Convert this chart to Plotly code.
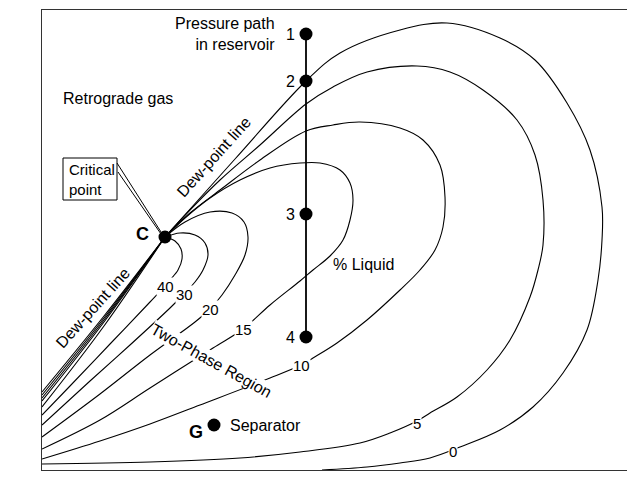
import plotly.graph_objects as go

FONT = "Liberation Sans, Arial, Helvetica, sans-serif"

# ---------------- data (arbitrary temperature / pressure units) ----------------
crit_T = [123]
crit_P = [233]

# quality lines (% liquid); each starts at the critical point
q0_T = [123, 193, 264, 298, 358, 405, 458, 493, 525, 548, 560, 560, 556, 545, 521, 491, 458, 418, 388, 358, 325, 280]
q0_P = [233, 311, 389, 417, 440, 447, 432, 410, 367, 320, 263, 230, 190, 140, 97, 63, 40, 23, 12, 7, 3, 0]

q5_T = [123, 148, 178, 218, 264, 291, 325, 375, 408, 441, 475, 493, 501, 501, 496, 488, 468, 445, 415, 388, 375, 348, 318, 258, 198, 108, 0]
q5_P = [233, 260, 290, 325, 366, 383, 398, 404, 398, 380, 350, 315, 270, 225, 200, 173, 130, 100, 73, 57, 49, 37, 27, 18, 12, 8, 6]

q10_T = [123, 148, 178, 218, 264, 291, 318, 358, 381, 398, 403, 401, 393, 378, 358, 325, 295, 271, 259, 228, 158, 108, 58, 0]
q10_P = [233, 257, 280, 310, 339, 345, 348, 342, 330, 305, 273, 243, 220, 200, 180, 150, 127, 112, 105, 92, 65, 46, 29, 11]

q15_T = [123, 143, 168, 198, 228, 258, 278, 298, 308, 311, 308, 301, 288, 271, 258, 228, 201, 171, 108, 58, 0]
q15_P = [233, 252, 272, 290, 302, 307, 307, 300, 287, 270, 250, 230, 214, 200, 189, 165, 141, 122, 82, 50, 21]

q20_T = [123, 143, 168, 190, 202, 206, 203, 193, 180, 168, 153, 108, 58, 0]
q20_P = [233, 248, 258, 257, 248, 233, 215, 195, 175, 161, 148, 115, 76, 33]

q30_T = [123, 138, 153, 163, 166, 161, 153, 142, 128, 88, 48, 0]
q30_P = [233, 237, 235, 227, 215, 200, 188, 176, 162, 125, 89, 45]

q40_T = [123, 133, 139, 140, 136, 128, 123, 108, 68, 28, 0]
q40_P = [233, 229, 221, 211, 200, 190, 184, 168, 126, 84, 55]

# lower dew-point bundle
bundle_T = [123, 62, 0]
bundle1_P = [233, 154, 78]
bundle2_P = [233, 152, 75]
bundle3_P = [233, 150, 72]
bundle4_P = [233, 148, 69]
bundle5_P = [233, 144, 63]

# pressure path in reservoir
path_T = [264, 264, 264, 264]
path_P = [436, 389, 256, 133]
path_labels = ["1", "2", "3", "4"]

# separator
sep_T = [172]
sep_P = [45]

# quality line labels
qlab_text = ["40", "30", "20", "15", "10", "5", "0"]
qlab_T = [123, 142, 168, 201, 259, 375, 411]
qlab_P = [184, 176, 161, 141, 105, 47, 19]

# ---------------- figure ----------------
fig = go.Figure()
line_style = dict(color="black", width=1.1, shape="spline", smoothing=1.0)

curves = [(q0_T, q0_P), (q5_T, q5_P), (q10_T, q10_P), (q15_T, q15_P),
          (q20_T, q20_P), (q30_T, q30_P), (q40_T, q40_P),
          (bundle_T, bundle1_P), (bundle_T, bundle2_P), (bundle_T, bundle3_P),
          (bundle_T, bundle4_P), (bundle_T, bundle5_P)]
for t, p in curves:
    fig.add_trace(go.Scatter(x=t, y=p, mode="lines", line=line_style,
                             hoverinfo="skip", showlegend=False))

# pressure path
fig.add_trace(go.Scatter(x=path_T, y=path_P, mode="lines+markers",
                         line=dict(color="black", width=1.8),
                         marker=dict(color="black", size=13),
                         showlegend=False, cliponaxis=False))
# critical point and separator
fig.add_trace(go.Scatter(x=crit_T + sep_T, y=crit_P + sep_P, mode="markers",
                         marker=dict(color="black", size=13),
                         showlegend=False, cliponaxis=False))

ann = []
def txt(x, y, s, size=16, xanchor="center", yanchor="middle", angle=0,
        bg=None, bold=False, align="center"):
    d = dict(x=x, y=y, xref="x", yref="y", text=("<b>%s</b>" % s) if bold else s,
             showarrow=False, xanchor=xanchor, yanchor=yanchor, textangle=angle,
             align=align, font=dict(family=FONT, size=size, color="black"))
    if bg:
        d["bgcolor"] = bg
        d["borderpad"] = 0
    ann.append(d)

for s, t, p in zip(path_labels, path_T, path_P):
    txt(t - 16, p, s)
for s, t, p in zip(qlab_text, qlab_T, qlab_P):
    txt(t, p, s, size=15, bg="white")

txt(235, 436, "Pressure path<br>in reservoir", xanchor="right", align="right")
txt(19, 372, "Retrograde gas", xanchor="left")
txt(25, 291, "Critical<br>point", size=15, xanchor="left", align="left")
txt(100, 236, "C", size=18, bold=True)
txt(154, 38, "G", size=18, bold=True)
txt(186, 45, "Separator", xanchor="left")
txt(171, 313, "Dew-point line", angle=-48)
txt(50, 162, "Dew-point line", angle=-48)
txt(169, 110, "Two-Phase Region", angle=29, bg="white")
txt(321, 206, "% Liquid")
txt(-23, 241, "Pressure", size=20, angle=-90)
txt(297, -21, "Temperature", size=20)

fig.update_layout(annotations=ann)

# critical point box and leader
fig.add_shape(type="rect", x0=21, x1=75, y0=270, y1=312,
              line=dict(color="black", width=1))
fig.add_shape(type="line", x0=75, y0=307, x1=119, y1=238, line=dict(color="black", width=1))
fig.add_shape(type="line", x0=76, y0=298, x1=119, y1=236, line=dict(color="black", width=1))

fig.update_xaxes(range=[0, 585], showgrid=False, zeroline=False, showticklabels=False,
                 ticks="", showline=True, mirror=True, linecolor="#333", linewidth=1)
fig.update_yaxes(range=[0, 460], showgrid=False, zeroline=False, showticklabels=False,
                 ticks="", showline=True, mirror=False, linecolor="#333", linewidth=1)

fig.update_layout(width=627, height=504, margin=dict(l=42, r=0, t=10, b=34),
                  paper_bgcolor="white", plot_bgcolor="white",
                  font=dict(family=FONT), hovermode=False)

fig.write_html("out.html",
               config={"displayModeBar": False, "staticPlot": True},
               post_script="document.documentElement.style.margin='0';"
                           "document.body.style.margin='0';"
                           "document.body.style.overflow='hidden';")
